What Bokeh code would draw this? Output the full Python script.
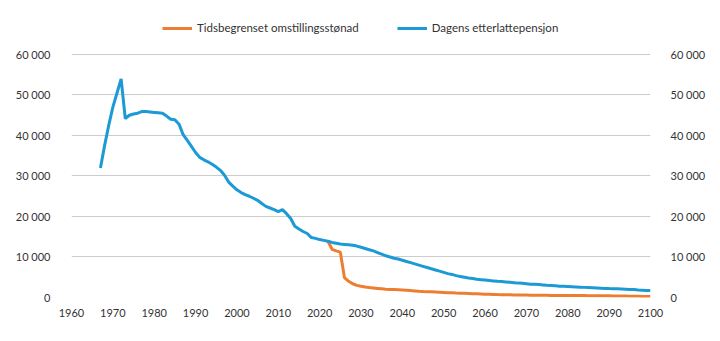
from bokeh.plotting import figure
from bokeh.models import (Range1d, LinearAxis, FixedTicker, Legend, LegendItem)
from bokeh.embed import file_html
from bokeh.resources import INLINE

# ---- data ----
blue_years = list(range(1967, 2101))
blue_values = [
    32000, 37500, 42500, 47000, 50500, 54000, 44200, 45000, 45300, 45500,   # 1967-1976
    45900, 45900, 45800, 45700, 45600, 45500, 44800, 44000, 43900, 42800,   # 1977-1986
    40200, 38800, 37300, 35800, 34600, 34000, 33500, 32900, 32200, 31400,   # 1987-1996
    30200, 28500, 27500, 26600, 25900, 25400, 25000, 24500, 24000, 23200,   # 1997-2006
    22500, 22100, 21700, 21200, 21700, 20700, 19500, 17600, 16900, 16300,   # 2007-2016
    15800, 14800, 14600, 14300, 14100, 13900, 13600, 13400, 13200, 13100,   # 2017-2026
    13000, 12900, 12700, 12400, 12100, 11800, 11500, 11100, 10700, 10300,   # 2027-2036
    10000, 9700, 9500, 9200, 8900, 8600, 8300, 8000, 7700, 7400,            # 2037-2046
    7100, 6800, 6500, 6200, 5900, 5700, 5400, 5200, 5000, 4800,             # 2047-2056
    4700, 4500, 4400, 4300, 4200, 4100, 4000, 3950, 3850, 3750,             # 2057-2066
    3650, 3550, 3500, 3400, 3300, 3250, 3200, 3100, 3000, 2950,             # 2067-2076
    2900, 2800, 2750, 2700, 2650, 2600, 2550, 2500, 2450, 2400,             # 2077-2086
    2350, 2300, 2250, 2200, 2180, 2150, 2100, 2050, 2000, 1950,             # 2087-2096
    1850, 1800, 1750, 1700,                                                 # 2097-2100
]
orange_years = list(range(2022, 2101))
orange_values = [
    13900, 11900, 11500, 11200, 4900, 4000, 3400, 3000, 2800, 2600,         # 2022-2031
    2450, 2350, 2250, 2150, 2050, 2000, 1950, 1900, 1850, 1780,             # 2032-2041
    1700, 1630, 1560, 1500, 1450, 1400, 1350, 1300, 1250, 1200,             # 2042-2051
    1150, 1100, 1070, 1030, 990, 950, 910, 870, 830, 800,                   # 2052-2061
    760, 720, 690, 670, 650, 630, 610, 600, 590, 580,                       # 2062-2071
    570, 550, 540, 530, 520, 510, 500, 500, 490, 490,                       # 2072-2081
    480, 480, 470, 460, 450, 440, 430, 420, 410, 400,                       # 2082-2091
    380, 360, 340, 320, 300, 290, 270, 260, 250,                            # 2092-2100
]
series_names = ["Tidsbegrenset omstillingsstønad", "Dagens etterlattepensjon"]
x_ticks = list(range(1960, 2101, 10))
y_ticks = [0, 10000, 20000, 30000, 40000, 50000, 60000]
y_tick_labels = ["0", "10 000", "20 000", "30 000", "40 000", "50 000", "60 000"]

ORANGE = "#ED7D31"
BLUE = "#1B9AD6"
FONT = "Lato"
TEXT = "#333333"

# frame spans the full height above the x axis; the top part holds the legend
p = figure(width=720, height=341, output_backend="svg", toolbar_location=None,
           x_range=Range1d(1960, 2100), y_range=Range1d(0, 73333),
           min_border_left=71, min_border_right=70,
           min_border_top=0, min_border_bottom=44)
p.outline_line_color = None
p.background_fill_color = "white"
p.border_fill_color = "white"

r_orange = p.line(orange_years, orange_values, line_color=ORANGE, line_width=3)
r_blue = p.line(blue_years, blue_values, line_color=BLUE, line_width=3)

# axes
labels_map = {t: l for t, l in zip(y_ticks, y_tick_labels)}
for ax in p.yaxis:
    ax.ticker = FixedTicker(ticks=y_ticks)
    ax.major_label_overrides = labels_map
right_axis = LinearAxis(ticker=FixedTicker(ticks=y_ticks), major_label_overrides=labels_map)
p.add_layout(right_axis, "right")
p.xaxis.ticker = FixedTicker(ticks=x_ticks)

for ax in p.xaxis + p.yaxis + [right_axis]:
    ax.axis_line_color = None
    ax.major_tick_line_color = None
    ax.minor_tick_line_color = None
    ax.major_label_text_font = FONT
    ax.major_label_text_font_size = "11px"
    ax.major_label_text_color = TEXT
for ax in p.yaxis:
    ax.major_label_standoff = 15
right_axis.major_label_standoff = 14
p.xaxis.major_label_standoff = 5

p.xgrid.grid_line_color = None
p.ygrid.ticker = FixedTicker(ticks=y_ticks)
p.ygrid.grid_line_color = "#CCCCCC"
p.ygrid.grid_line_width = 1

legend = Legend(items=[LegendItem(label=series_names[0], renderers=[r_orange]),
                       LegendItem(label=series_names[1], renderers=[r_blue])],
                orientation="horizontal", location=(91, 263),
                label_text_font=FONT, label_text_font_size="11.5px",
                label_text_color=TEXT, glyph_width=30, glyph_height=10,
                label_standoff=5, spacing=38, padding=4, margin=0,
                border_line_color=None, background_fill_alpha=0)
p.add_layout(legend, "center")

open("out.html", "w").write(file_html(p, INLINE))
